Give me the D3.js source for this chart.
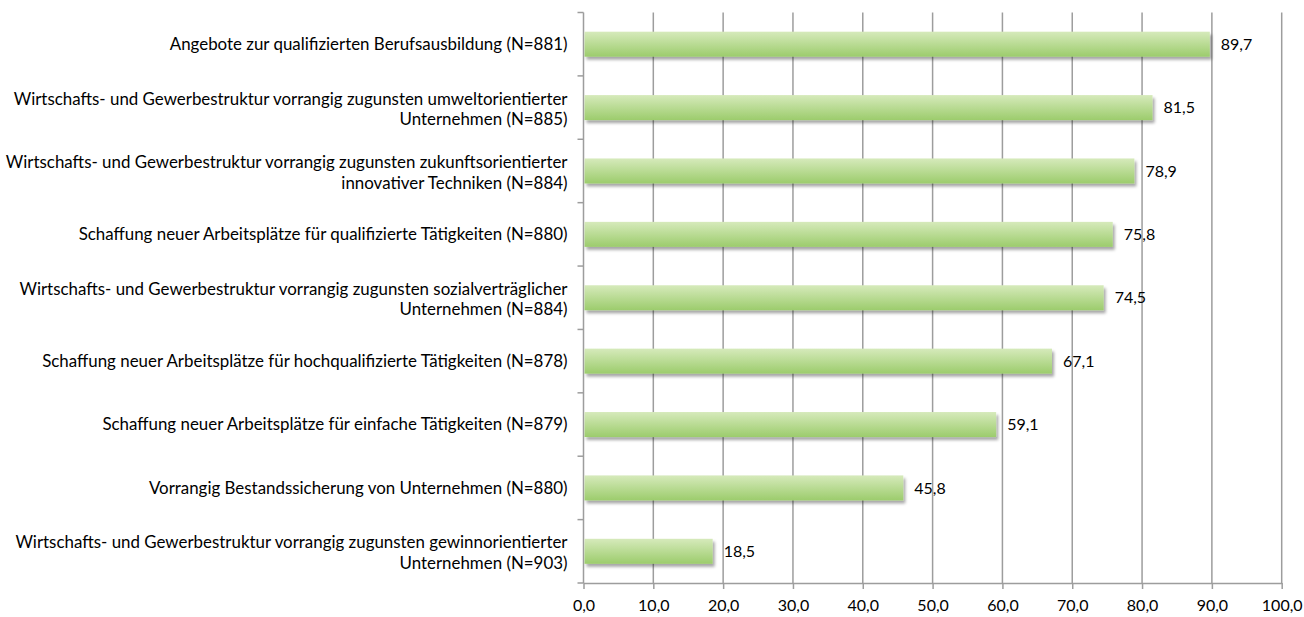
<!DOCTYPE html>
<html lang="de">
  <head>
    <meta charset="utf-8" />
    <title>Wirtschaftsstruktur</title>
    <style>
      body {
        margin: 0;
        background: #fff;
      }
      svg text {
        font-family: Lato, 'Open Sans', sans-serif;
        font-size: 16px;
        fill: #000;
      }
    </style>
  </head>
  <body>
    <div id="chart"></div>

    <script src="https://cdn.jsdelivr.net/npm/d3@7/dist/d3.min.js"></script>
    <script type="text/javascript">
      // Categories (top to bottom), each label split into lines
      var categories = [
        ['Angebote zur qualifizierten Berufsausbildung (N=881)'],
        ['Wirtschafts- und Gewerbestruktur vorrangig zugunsten umweltorientierter', 'Unternehmen (N=885)'],
        ['Wirtschafts- und Gewerbestruktur vorrangig zugunsten zukunftsorientierter', 'innovativer Techniken (N=884)'],
        ['Schaffung neuer Arbeitsplätze für qualifizierte Tätigkeiten (N=880)'],
        ['Wirtschafts- und Gewerbestruktur vorrangig zugunsten sozialverträglicher', 'Unternehmen (N=884)'],
        ['Schaffung neuer Arbeitsplätze für hochqualifizierte Tätigkeiten (N=878)'],
        ['Schaffung neuer Arbeitsplätze für einfache Tätigkeiten (N=879)'],
        ['Vorrangig Bestandssicherung von Unternehmen (N=880)'],
        ['Wirtschafts- und Gewerbestruktur vorrangig zugunsten gewinnorientierter', 'Unternehmen (N=903)']
      ]
      var values = [89.7, 81.5, 78.9, 75.8, 74.5, 67.1, 59.1, 45.8, 18.5]
      var xTicks = [0, 10, 20, 30, 40, 50, 60, 70, 80, 90, 100]

      var W = 1304,
        H = 617
      var plot = { left: 583.5, right: 1281.7, top: 12.5, bottom: 583 }

      var de = d3.formatLocale({ decimal: ',', thousands: '.', grouping: [3], currency: ['', ' €'] })
      var fmt = de.format('.1f')

      var svg = d3.select('#chart').append('svg').attr('width', W).attr('height', H)

      var defs = svg.append('defs')
      var grad = defs.append('linearGradient').attr('id', 'barGrad').attr('x1', 0).attr('y1', 0).attr('x2', 0).attr('y2', 1)
      grad.append('stop').attr('offset', '0%').attr('stop-color', '#d6eabb')
      grad.append('stop').attr('offset', '100%').attr('stop-color', '#9ccc6c')

      var shadow = defs.append('filter').attr('id', 'shadow').attr('x', '-5%').attr('y', '-30%').attr('width', '115%').attr('height', '180%')
      shadow
        .append('feDropShadow')
        .attr('dx', 2)
        .attr('dy', 3)
        .attr('stdDeviation', 1.8)
        .attr('flood-color', '#000')
        .attr('flood-opacity', 0.35)

      var x = d3.scaleLinear().domain([0, 100]).range([plot.left, plot.right])
      var y = d3
        .scaleBand()
        .domain(d3.range(categories.length))
        .range([plot.top, plot.bottom])
        .padding(0)

      // Vertical gridlines
      svg
        .append('g')
        .selectAll('line')
        .data(xTicks.slice(1))
        .enter()
        .append('line')
        .attr('x1', (d) => x(d))
        .attr('x2', (d) => x(d))
        .attr('y1', plot.top)
        .attr('y2', plot.bottom)
        .attr('stroke', '#9d9d9d')
        .attr('stroke-width', 1.5)

      // Bottom axis
      var xAxis = svg
        .append('g')
        .attr('transform', 'translate(0,' + plot.bottom + ')')
        .call(d3.axisBottom(x).tickValues(xTicks).tickFormat(fmt).tickSize(6).tickSizeOuter(0).tickPadding(11))
      xAxis.select('.domain').attr('stroke', '#9d9d9d').attr('stroke-width', 1.5)
      xAxis.selectAll('.tick line').attr('stroke', '#9d9d9d').attr('stroke-width', 1.5)
      xAxis.selectAll('.tick text').style('font-size', '16px').style('font-family', 'Lato, sans-serif').attr('fill', '#000')

      // Left axis line with ticks between categories
      var yAxis = svg.append('g')
      yAxis
        .append('line')
        .attr('x1', plot.left)
        .attr('x2', plot.left)
        .attr('y1', plot.top)
        .attr('y2', plot.bottom)
        .attr('stroke', '#9d9d9d')
        .attr('stroke-width', 1.5)
      yAxis
        .selectAll('line.tick')
        .data(d3.range(categories.length + 1))
        .enter()
        .append('line')
        .attr('class', 'tick')
        .attr('x1', plot.left - 6)
        .attr('x2', plot.left)
        .attr('y1', (i) => plot.top + i * y.step())
        .attr('y2', (i) => plot.top + i * y.step())
        .attr('stroke', '#9d9d9d')
        .attr('stroke-width', 1.5)

      // Category labels
      var lineH = 20.5
      svg
        .append('g')
        .selectAll('text')
        .data(categories)
        .enter()
        .append('text')
        .attr('text-anchor', 'end')
        .style('font-size', '16.9px')
        .each(function (lines, i) {
          var cy = y(i) + y.bandwidth() / 2 + (lines.length > 1 ? 1.5 : 0)
          var y0 = cy - ((lines.length - 1) * lineH) / 2
          d3.select(this)
            .selectAll('tspan')
            .data(lines)
            .enter()
            .append('tspan')
            .attr('x', plot.left - 16)
            .attr('y', (d, k) => y0 + k * lineH)
            .attr('dy', '0.35em')
            .text((d) => d)
        })

      // Bars
      var barH = 25
      svg
        .append('g')
        .selectAll('rect')
        .data(values)
        .enter()
        .append('rect')
        .attr('x', x(0) + 1)
        .attr('y', (d, i) => y(i) + y.bandwidth() / 2 - barH / 2)
        .attr('width', (d) => x(d) - x(0) - 1)
        .attr('height', barH)
        .attr('fill', 'url(#barGrad)')
        .attr('filter', 'url(#shadow)')

      // Value labels
      svg
        .append('g')
        .selectAll('text')
        .data(values)
        .enter()
        .append('text')
        .attr('x', (d) => x(d) + 11)
        .attr('y', (d, i) => y(i) + y.bandwidth() / 2)
        .attr('dy', '0.35em')
        .text((d) => fmt(d))
    </script>
  </body>
</html>
